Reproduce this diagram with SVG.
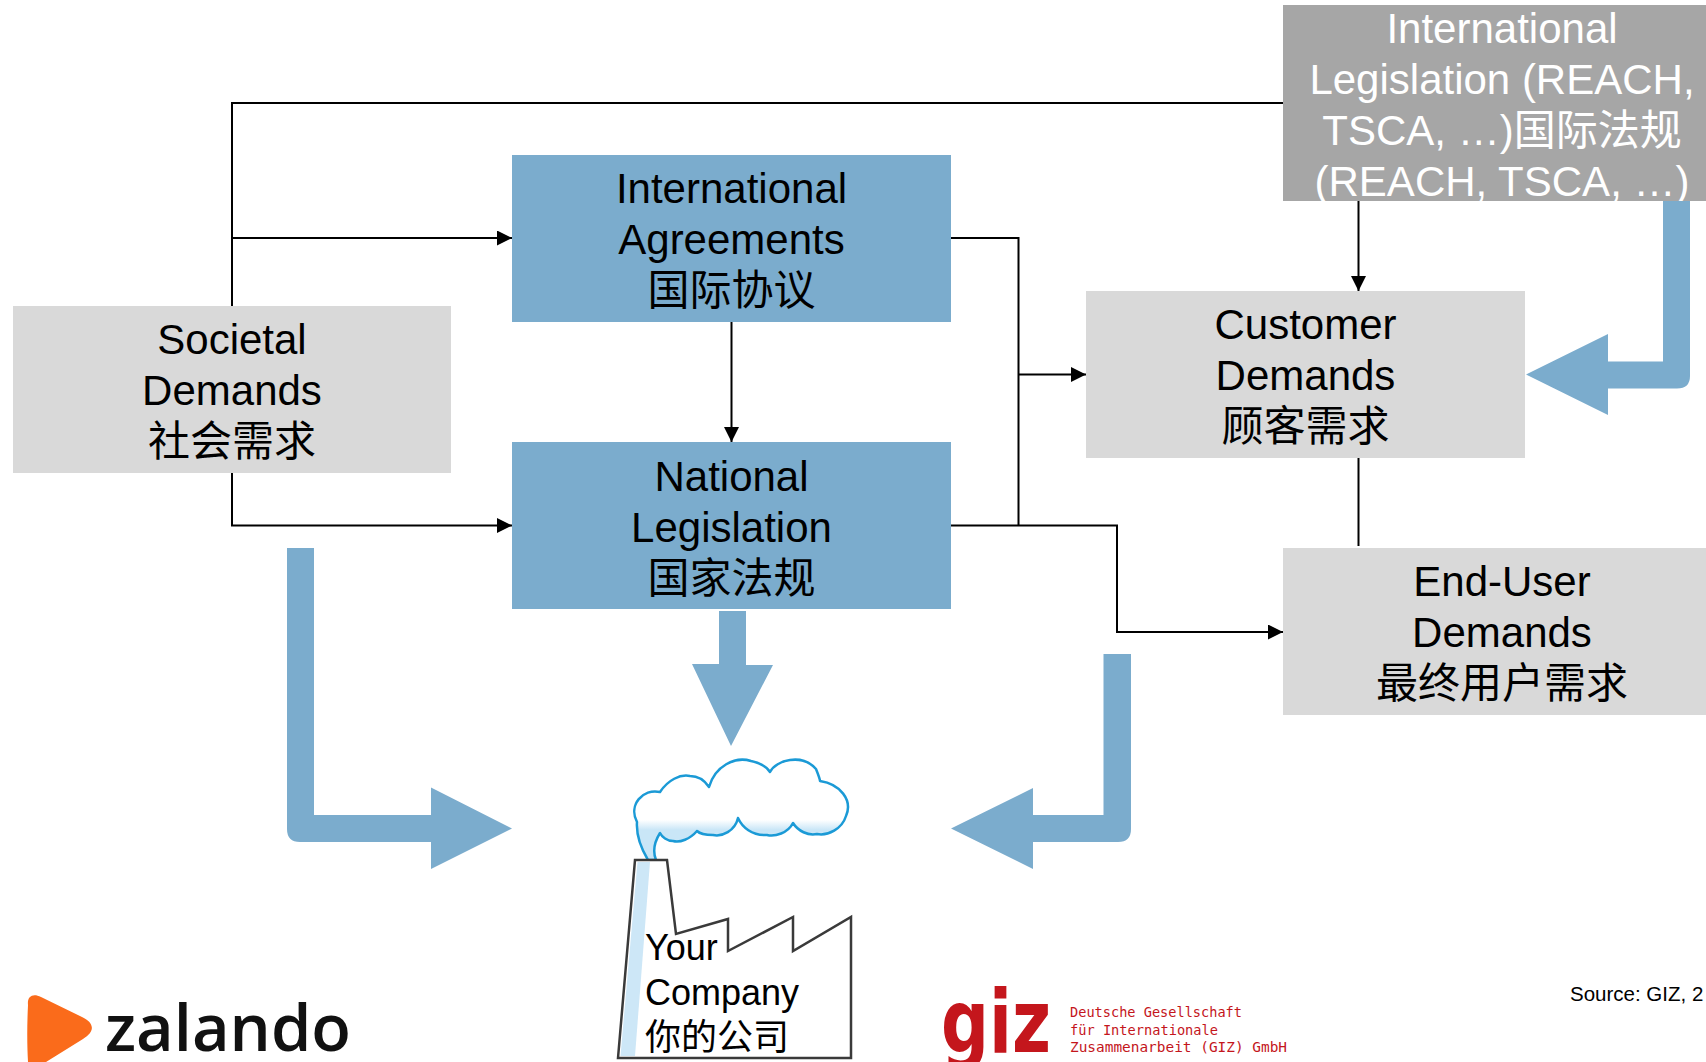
<svg xmlns="http://www.w3.org/2000/svg" width="1706" height="1062" viewBox="0 0 1706 1062">
  <style>
    .lbl { font-family: "Liberation Sans", "Noto Sans CJK SC", sans-serif; font-size: 42px; text-anchor: middle; fill: #000; }
    .inv { fill: #fff; }
    .box-grey { fill: #D9D9D9; }
    .box-blue { fill: #7BACCD; }
    .conn { fill: none; stroke: #000; stroke-width: 2; }
    .flow { fill: #7BACCD; }
    .co { font-family: "Liberation Sans", "Noto Sans CJK SC", sans-serif; font-size: 36px; fill: #000; }
    .giz-sub { font-family: "DejaVu Sans Mono", monospace; font-size: 14px; fill: #C4161C; }
  </style>
  <defs>
    <marker id="ah" markerWidth="15" markerHeight="15" refX="15" refY="7.5" orient="auto" markerUnits="userSpaceOnUse">
      <path d="M0,0 L15,7.5 L0,15 z" fill="#000"/>
    </marker>
    <clipPath id="ilClip">
      <rect x="1283" y="5" width="440" height="196"/>
    </clipPath>
    <linearGradient id="cloudShade" x1="0" y1="0" x2="0" y2="1">
      <stop offset="0" stop-color="#FFFFFF"/>
      <stop offset="0.6" stop-color="#FFFFFF"/>
      <stop offset="0.7" stop-color="#C9E6F7"/>
      <stop offset="1" stop-color="#C9E6F7"/>
    </linearGradient>
  </defs>

  <rect width="1706" height="1062" fill="#fff"/>

  <!-- thick flow arrows towards the company -->
  <g id="flows">
    <path class="flow" d="M287,548 H314 V815 H431 V787.5 L512,828.5 L431,869 V842 H300 Q287,842 287,829 Z"/>
    <path class="flow" d="M719,611 H746 V665 H773 L731,746 L692,664 H719 Z"/>
    <path class="flow" d="M1131,654 V829 Q1131,842 1118,842 H1033 V869 L951,828.5 L1033,788 V815 H1103.5 V654 Z"/>
    <path class="flow" d="M1690,200 V376 Q1690,388.5 1677,388.5 H1608 V415 L1526,374.5 L1608,334 V361.5 H1663 V200 Z"/>
  </g>

  <!-- nodes -->
  <g id="intl-legislation">
    <rect x="1283" y="5" width="440" height="196" fill="#A6A6A6"/>
    <g clip-path="url(#ilClip)">
      <text class="lbl inv" x="1502" y="43">International</text>
      <text class="lbl inv" x="1502" y="94">Legislation (REACH,</text>
      <text class="lbl inv" x="1502" y="145">TSCA, …)国际法规</text>
      <text class="lbl inv" x="1502" y="196">(REACH, TSCA, …)</text>
    </g>
  </g>

  <g id="societal-demands">
    <rect class="box-grey" x="13" y="306" width="438" height="167"/>
    <text class="lbl" x="232" y="354">Societal</text>
    <text class="lbl" x="232" y="405">Demands</text>
    <text class="lbl" x="232" y="456">社会需求</text>
  </g>

  <g id="intl-agreements">
    <rect class="box-blue" x="512" y="155" width="439" height="167"/>
    <text class="lbl" x="731.5" y="203">International</text>
    <text class="lbl" x="731.5" y="254">Agreements</text>
    <text class="lbl" x="731.5" y="305">国际协议</text>
  </g>

  <g id="national-legislation">
    <rect class="box-blue" x="512" y="442" width="439" height="167"/>
    <text class="lbl" x="731.5" y="491">National</text>
    <text class="lbl" x="731.5" y="542">Legislation</text>
    <text class="lbl" x="731.5" y="593">国家法规</text>
  </g>

  <g id="customer-demands">
    <rect class="box-grey" x="1086" y="291" width="439" height="167"/>
    <text class="lbl" x="1305.5" y="339">Customer</text>
    <text class="lbl" x="1305.5" y="390">Demands</text>
    <text class="lbl" x="1305.5" y="441">顾客需求</text>
  </g>

  <g id="end-user-demands">
    <rect class="box-grey" x="1283" y="548" width="440" height="167"/>
    <text class="lbl" x="1502" y="596">End-User</text>
    <text class="lbl" x="1502" y="647">Demands</text>
    <text class="lbl" x="1502" y="698">最终用户需求</text>
  </g>

  <g id="your-company">
    <!-- smoke cloud -->
    <path d="M648,860 C642,850 636,836 637,822 C628,805 643,788 660,792 C668,780 680,774 690,776 C698,776 705,781 709,787 C715,766 735,756 751,761 C760,763 767,767 770,772 C776,760 802,753 816,769 C818,774 820,779 820,781 C840,784 853,800 846,816 C842,829 828,836 817,834 C808,836 798,831 793,823 C788,833 775,837 767,835 C752,836 742,827 738,818 C735,831 722,837 713,835 C705,835 699,833 697,831 C690,839 680,843 673,841 C667,841 662,837 660,833 C655,841 652,850 656,860 Z"
          fill="url(#cloudShade)" stroke="#1B9AD6" stroke-width="2.5" stroke-linejoin="round"/>
    <!-- factory building -->
    <path d="M618,1058 L635,860 L667,860 L676,934 L728,919 L728,951 L793,917 L793,951 L851,917 L851,1058 Z"
          fill="#fff" stroke="#3A3A3A" stroke-width="2.5" stroke-linejoin="miter"/>
    <polygon points="637.5,862 650,862 635,1056 620.5,1056" fill="#CDE7F7"/>
    <text class="co" x="645" y="960">Your</text>
    <text class="co" x="645" y="1005">Company</text>
    <text class="co" x="645" y="1050">你的公司</text>
  </g>

  <!-- thin connectors -->
  <g id="connectors">
    <path class="conn" d="M1283,103 H232 V306"/>
    <path class="conn" d="M232,238 H512" marker-end="url(#ah)"/>
    <path class="conn" d="M232,473 V525.5 H512" marker-end="url(#ah)"/>
    <path class="conn" d="M731.5,322 V442" marker-end="url(#ah)"/>
    <path class="conn" d="M951,238 H1018.5 V525.5"/>
    <path class="conn" d="M1018.5,374.5 H1086" marker-end="url(#ah)"/>
    <path class="conn" d="M951,525.5 H1117 V632 H1283" marker-end="url(#ah)"/>
    <path class="conn" d="M1358.5,201 V291" marker-end="url(#ah)"/>
    <path class="conn" d="M1358.5,458 V546"/>
  </g>

  <!-- logos and source -->
  <g id="zalando-logo">
    <path d="M28,1005 C27,996 33,993 41,997 L82,1017 C95,1023 95,1032 83,1039 L46,1062 L28,1062 C27,1045 27,1025 28,1005 Z" fill="#FA6B1B"/>
    <text x="105" y="1051" font-family="'Open Sans', 'DejaVu Sans', sans-serif" font-weight="600" font-size="66" textLength="246" lengthAdjust="spacingAndGlyphs" fill="#111">zalando</text>
  </g>

  <g id="giz-logo">
    <text x="941" y="1052" font-family="'Liberation Sans Narrow', 'DejaVu Sans Condensed', sans-serif" font-weight="bold" font-size="88" textLength="110" lengthAdjust="spacingAndGlyphs" fill="#C4161C">giz</text>
    <text class="giz-sub" x="1070" y="1017" textLength="172" lengthAdjust="spacingAndGlyphs">Deutsche Gesellschaft</text>
    <text class="giz-sub" x="1070" y="1034.5" textLength="148" lengthAdjust="spacingAndGlyphs">für Internationale</text>
    <text class="giz-sub" x="1070" y="1052" textLength="217" lengthAdjust="spacingAndGlyphs">Zusammenarbeit (GIZ) GmbH</text>
  </g>

  <text x="1570" y="1001" font-family="'Liberation Sans', sans-serif" font-size="20.5" fill="#000">Source: GIZ, 2</text>
</svg>
